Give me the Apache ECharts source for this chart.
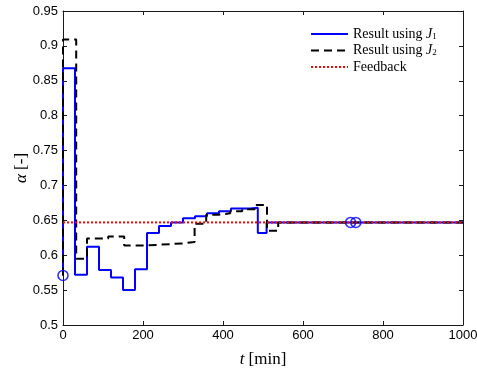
<!DOCTYPE html>
<html>
<head>
<meta charset="utf-8">
<script src="https://cdn.jsdelivr.net/npm/echarts@6/dist/echarts.min.js"></script>
<style>
  html, body { margin: 0; padding: 0; background: #fff; }
  #chart { width: 477px; height: 378px; }
</style>
</head>
<body>
<div id="chart"></div>
<script>
// Axis ranges and ticks
const xMin = 0, xMax = 1000, xStep = 200;
const yMin = 0.5, yMax = 0.95, yStep = 0.05;

// Control input alpha for the J1 optimisation (piecewise constant, value holds from each time on)
const j1Times  = [0, 0, 30, 60, 90, 120, 150, 180, 210, 240, 270, 300, 330, 360, 390, 420, 468, 487, 509, 1000];
const j1Values = [0.571, 0.868, 0.572, 0.612, 0.579, 0.568, 0.550, 0.580, 0.632, 0.642, 0.647, 0.653, 0.656, 0.660, 0.663, 0.667, 0.668, 0.632, 0.647, 0.647];

// Control input alpha for the J2 optimisation
const j2Times  = [0, 0, 33, 60, 113, 153, 210, 240, 270, 300, 329, 358, 388, 418, 448, 480, 510, 538, 1000];
const j2Values = [0.571, 0.909, 0.595, 0.624, 0.627, 0.614, 0.615, 0.616, 0.617, 0.619, 0.645, 0.658, 0.660, 0.663, 0.666, 0.672, 0.635, 0.647, 0.647];

// Feedback controller level
const feedbackTimes  = [0, 1000];
const feedbackValues = [0.647, 0.647];

// Circle markers (start and switching instants)
const markerTimes  = [0, 719, 732];
const markerValues = [0.571, 0.647, 0.647];

const names = ['Result using J1', 'Result using J2', 'Feedback'];
const legendText = {
  'Result using J1': '{n|Result using }{j|J}{s|1}',
  'Result using J2': '{n|Result using }{j|J}{s|2}',
  'Feedback': '{n|Feedback}'
};

const pairs = (xs, ys) => xs.map((x, i) => [x, ys[i]]);
const fmtY = v => String(+(+v).toFixed(2));
const fmtX = v => String(Math.round(v));

const frameColor = '#1a1a1a';
const sansFont = '"Liberation Sans", Arial, sans-serif';
const serifFont = '"Liberation Serif", "Times New Roman", serif';

const baseX = {
  type: 'value', min: xMin, max: xMax, interval: xStep,
  splitLine: { show: false },
  axisLine: { show: true, onZero: false, lineStyle: { color: frameColor, width: 1 } },
  axisTick: { show: true, inside: true, length: 4, lineStyle: { color: frameColor } }
};
const baseY = {
  type: 'value', min: yMin, max: yMax, interval: yStep,
  splitLine: { show: false },
  axisLine: { show: true, onZero: false, lineStyle: { color: frameColor, width: 1 } },
  axisTick: { show: true, inside: true, length: 4, lineStyle: { color: frameColor } }
};

const chart = echarts.init(document.getElementById('chart'), null, { renderer: 'canvas' });
chart.setOption({
  animation: false,
  backgroundColor: '#fff',
  grid: { left: 63, right: 14, top: 11, bottom: 53, containLabel: false, outerBoundsMode: 'none' },
  xAxis: [
    Object.assign({}, baseX, {
      position: 'bottom',
      axisLabel: { show: true, margin: 4, color: '#000', fontFamily: sansFont, fontSize: 13, formatter: fmtX },
      name: '{i|t} [min]',
      nameLocation: 'middle',
      nameGap: 26,
      nameMoveOverlap: false,
      nameTextStyle: {
        color: '#000', fontFamily: serifFont, fontSize: 17,
        rich: { i: { fontStyle: 'italic', fontFamily: serifFont, fontSize: 17, color: '#000' } }
      }
    }),
    Object.assign({}, baseX, { position: 'top', axisLabel: { show: false } })
  ],
  yAxis: [
    Object.assign({}, baseY, {
      position: 'left',
      axisLabel: { show: true, margin: 5, color: '#000', fontFamily: sansFont, fontSize: 13, formatter: fmtY },
      name: '{i|α} [-]',
      nameLocation: 'middle',
      nameRotate: 90,
      nameGap: 33,
      nameMoveOverlap: false,
      nameTextStyle: {
        color: '#000', fontFamily: serifFont, fontSize: 17,
        rich: { i: { fontStyle: 'italic', fontFamily: serifFont, fontSize: 17, color: '#000' } }
      }
    }),
    Object.assign({}, baseY, { position: 'right', axisLabel: { show: false } })
  ],
  legend: {
    orient: 'vertical',
    left: 305,
    top: 22,
    itemWidth: 37,
    itemHeight: 14,
    itemGap: 2.5,
    data: names,
    formatter: name => legendText[name],
    // line-only legend keys
    itemStyle: { color: 'rgba(0,0,0,0)', borderWidth: 0, opacity: 0 },
    textStyle: {
      color: '#000', fontFamily: serifFont, fontSize: 14,
      rich: {
        n: { fontFamily: serifFont, fontSize: 14, color: '#000' },
        j: { fontFamily: serifFont, fontSize: 14, fontStyle: 'italic', color: '#000' },
        s: { fontFamily: serifFont, fontSize: 9, color: '#000', verticalAlign: 'bottom', lineHeight: 9 }
      }
    }
  },
  series: [
    {
      name: names[0], type: 'line', step: 'end', symbol: 'none',
      data: pairs(j1Times, j1Values),
      lineStyle: { color: '#0000ff', width: 2 },
      itemStyle: { color: '#0000ff' }, z: 2
    },
    {
      name: names[1], type: 'line', step: 'end', symbol: 'none',
      data: pairs(j2Times, j2Values),
      lineStyle: { color: '#000000', width: 2, type: [8, 5] },
      itemStyle: { color: '#000000' }, z: 3
    },
    {
      name: names[2], type: 'line', symbol: 'none',
      data: pairs(feedbackTimes, feedbackValues),
      lineStyle: { color: '#ff0000', width: 2, type: [2, 2] },
      itemStyle: { color: '#ff0000' }, z: 4
    },
    {
      name: 'markers', type: 'scatter',
      data: pairs(markerTimes, markerValues),
      symbol: 'circle', symbolSize: 10,
      itemStyle: { color: 'rgba(0,0,0,0)', borderColor: '#0000ff', borderWidth: 1.6 },
      z: 5
    }
  ]
});
</script>
</body>
</html>
